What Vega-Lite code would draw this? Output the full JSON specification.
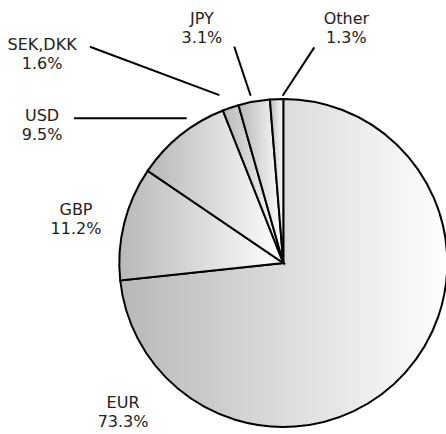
{
  "$schema": "https://vega.github.io/schema/vega-lite/v6.json",
  "width": 446,
  "height": 434,
  "padding": 0,
  "autosize": {"type": "none"},
  "background": "white",
  "config": {"view": {"stroke": null}},
  "datasets": {
    "slices": [
      {"currency": "EUR", "share": 73.3, "order": 1},
      {"currency": "GBP", "share": 11.2, "order": 2},
      {"currency": "USD", "share": 9.5, "order": 3},
      {"currency": "SEK,DKK", "share": 1.6, "order": 4},
      {"currency": "JPY", "share": 3.1, "order": 5},
      {"currency": "Other", "share": 1.3, "order": 6}
    ],
    "labels": [
      {"label": "SEK,DKK\n1.6%", "lx": -1.471, "ly": 1.378},
      {"label": "USD\n9.5%", "lx": -1.471, "ly": 0.945},
      {"label": "GBP\n11.2%", "lx": -1.264, "ly": 0.372},
      {"label": "EUR\n73.3%", "lx": -0.977, "ly": -0.805},
      {"label": "JPY\n3.1%", "lx": -0.496, "ly": 1.536},
      {"label": "Other\n1.3%", "lx": 0.385, "ly": 1.536}
    ],
    "leaders": [
      {"currency": "SEK,DKK", "x1": -1.179, "y1": 1.319, "x2": -0.390, "y2": 1.024},
      {"currency": "USD", "x1": -1.276, "y1": 0.882, "x2": -0.589, "y2": 0.882},
      {"currency": "JPY", "x1": -0.299, "y1": 1.319, "x2": -0.199, "y2": 1.020},
      {"currency": "Other", "x1": 0.189, "y1": 1.315, "x2": -0.004, "y2": 1.020}
    ]
  },
  "layer": [
    {
      "data": {"name": "slices"},
      "mark": {
        "type": "arc",
        "outerRadius": 164,
        "stroke": "black",
        "strokeWidth": 2,
        "fill": {
          "gradient": "linear",
          "x1": 0, "y1": 0, "x2": 1, "y2": 0,
          "stops": [
            {"offset": 0, "color": "#b8b8b8"},
            {"offset": 1, "color": "#ffffff"}
          ]
        }
      },
      "encoding": {
        "theta": {"field": "share", "type": "quantitative", "stack": true},
        "order": {"field": "order", "type": "quantitative"},
        "x": {"datum": 0, "type": "quantitative", "scale": {"domain": [-1.7274, 0.9921], "nice": false, "zero": false}, "axis": null},
        "y": {"datum": 0, "type": "quantitative", "scale": {"domain": [-1.0427, 1.6037], "nice": false, "zero": false}, "axis": null}
      }
    },
    {
      "data": {"name": "leaders"},
      "mark": {"type": "rule", "stroke": "black", "strokeWidth": 2},
      "encoding": {
        "x": {"field": "x1", "type": "quantitative"},
        "y": {"field": "y1", "type": "quantitative"},
        "x2": {"field": "x2"},
        "y2": {"field": "y2"}
      }
    },
    {
      "data": {"name": "labels"},
      "mark": {"type": "text", "font": "DejaVu Sans", "fontSize": 16, "lineBreak": "\n", "lineHeight": 19, "align": "center", "baseline": "top", "color": "#222222"},
      "encoding": {
        "x": {"field": "lx", "type": "quantitative"},
        "y": {"field": "ly", "type": "quantitative"},
        "text": {"field": "label"}
      }
    }
  ]
}
